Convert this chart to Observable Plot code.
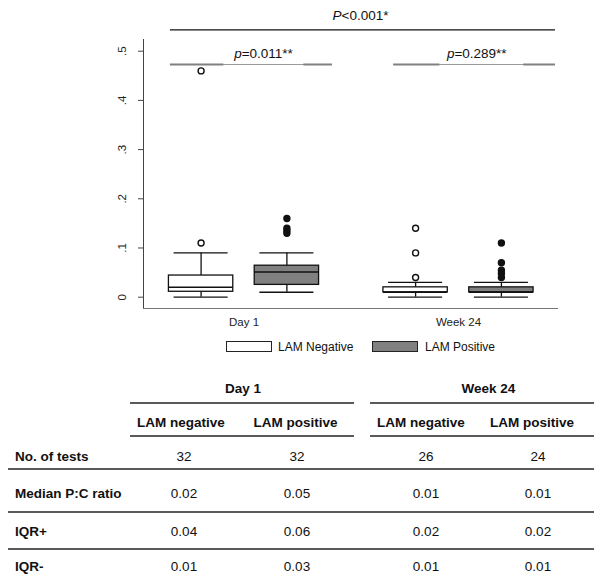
<!DOCTYPE html>
<html><head><meta charset="utf-8">
<script src="https://cdn.jsdelivr.net/npm/d3@7"></script>
<script src="https://cdn.jsdelivr.net/npm/@observablehq/plot@0.6"></script>
<style>
body{margin:0;background:#fff;font-family:"Liberation Sans",Arial,sans-serif;}
#wrap{position:relative;width:600px;height:579px;overflow:hidden;background:#fff;}
#chart{position:absolute;left:0;top:0;}
.abs{position:absolute;white-space:nowrap;line-height:1;color:#111;}
.c{transform:translate(-50%,-50%);}
.l{transform:translate(0,-50%);}
.b{font-weight:bold;}
.hl{position:absolute;height:2px;background:#5a5a5a;}
.sw{position:absolute;box-sizing:border-box;border:1px solid #222;}
</style></head>
<body><div id="wrap"><div id="chart"></div></div>
<script>
// ---- data ----
const groups = ["Day 1", "Week 24"];
const statuses = ["LAM Negative", "LAM Positive"];
const statusColors = ["#ffffff", "#808080"];

const boxGroup = ["Day 1", "Day 1", "Week 24", "Week 24"];
const boxStatus = ["LAM Negative", "LAM Positive", "LAM Negative", "LAM Positive"];
const whiskerLow = [0.0, 0.010, 0.0, 0.0];
const quartile1 = [0.011, 0.025, 0.010, 0.010];
const medianVal = [0.020, 0.051, 0.010, 0.010];
const quartile3 = [0.044, 0.064, 0.020, 0.020];
const whiskerHigh = [0.090, 0.090, 0.030, 0.030];

const outlierGroup = ["Day 1", "Day 1", "Day 1", "Day 1", "Day 1", "Day 1",
  "Week 24", "Week 24", "Week 24", "Week 24", "Week 24", "Week 24", "Week 24", "Week 24"];
const outlierStatus = ["LAM Negative", "LAM Negative", "LAM Positive", "LAM Positive", "LAM Positive", "LAM Positive",
  "LAM Negative", "LAM Negative", "LAM Negative", "LAM Positive", "LAM Positive", "LAM Positive", "LAM Positive", "LAM Positive"];
const outlierValue = [0.11, 0.46, 0.16, 0.14, 0.135, 0.13,
  0.14, 0.09, 0.04, 0.11, 0.07, 0.055, 0.048, 0.04];

const yTicks = [0, 0.1, 0.2, 0.3, 0.4, 0.5];
const pLabels = ["P<0.001*", "p=0.011**", "p=0.289**"];

// table
const tableGroups = ["Day 1", "Week 24"];
const tableCols = ["LAM negative", "LAM positive", "LAM negative", "LAM positive"];
const rowLabels = ["No. of tests", "Median P:C ratio", "IQR+", "IQR-"];
const nTests = ["32", "32", "26", "24"];
const medianRatio = ["0.02", "0.05", "0.01", "0.01"];
const iqrPlus = ["0.04", "0.06", "0.02", "0.02"];
const iqrMinus = ["0.01", "0.03", "0.01", "0.01"];

// ---- build tables for Plot ----
const xPos = (g, s) => groups.indexOf(g) + (statuses.indexOf(s) - 0.5) * 0.4;
const boxes = boxGroup.map((g, i) => ({
  group: g, status: boxStatus[i], x: xPos(g, boxStatus[i]),
  low: whiskerLow[i], q1: quartile1[i], med: medianVal[i], q3: quartile3[i], high: whiskerHigh[i]
}));
const outliers = outlierValue.map((v, i) => ({
  group: outlierGroup[i], status: outlierStatus[i], x: xPos(outlierGroup[i], outlierStatus[i]), v
}));
const BW = 0.15, CAP = 0.126;
const colorOf = s => statusColors[statuses.indexOf(s)];

const plot = Plot.plot({
  width: 600, height: 332,
  marginTop: 39, marginBottom: 24, marginLeft: 143, marginRight: 43,
  x: {type: "linear", domain: [-0.4685, 1.4615]},
  y: {domain: [-0.023, 0.5238]},
  style: {fontFamily: "'Liberation Sans', Arial, sans-serif", fontSize: "11px", color: "#222", background: "white", overflow: "visible"},
  marks: [
    Plot.axisY({ticks: yTicks, tickFormat: d => d === 0 ? "0" : String(d).replace(/^0/, ""),
      tickRotate: -90, tickSize: 5, tickPadding: 13, fontSize: 11.5, label: null, stroke: "#444", fill: "#222"}),
    Plot.axisX({ticks: [0, 1], tickFormat: i => groups[i], tickSize: 0, tickPadding: 9, fontSize: 11.5, label: null, fill: "#222"}),
    Plot.frame({anchor: "left", stroke: "#444"}),
    Plot.frame({anchor: "bottom", stroke: "#777"}),
    // whiskers
    Plot.ruleX(boxes, {x: "x", y1: "low", y2: "q1", stroke: "#111", strokeWidth: 1.3}),
    Plot.ruleX(boxes, {x: "x", y1: "q3", y2: "high", stroke: "#111", strokeWidth: 1.3}),
    Plot.ruleY(boxes, {y: "low", x1: d => d.x - CAP, x2: d => d.x + CAP, stroke: "#111", strokeWidth: 1.3}),
    Plot.ruleY(boxes, {y: "high", x1: d => d.x - CAP, x2: d => d.x + CAP, stroke: "#111", strokeWidth: 1.3}),
    // boxes
    Plot.rectY(boxes, {x1: d => d.x - BW, x2: d => d.x + BW, y1: "q1", y2: "q3",
      fill: d => colorOf(d.status), stroke: "#111", strokeWidth: 1.3}),
    Plot.ruleY(boxes, {y: "med", x1: d => d.x - BW, x2: d => d.x + BW, stroke: "#111", strokeWidth: 1.5}),
    // outliers
    Plot.dot(outliers, {x: "x", y: "v", r: 3, stroke: "#111", strokeWidth: 1.4,
      fill: d => d.status === "LAM Positive" ? "#111" : "#fff"}),
    // significance annotations
    Plot.ruleY([0.5435], {x1: -0.343, x2: 1.452, stroke: "#111", strokeWidth: 1.2}),
    Plot.text([pLabels[0]], {x: 0.543, y: 0.5726, fontSize: 13.5, fill: "#111"}),
    Plot.ruleY([0.473], {x1: -0.343, x2: 0.412, stroke: "#9a9a9a", strokeWidth: 1}),
    Plot.ruleY([0.473, 0.473], {x1: [-0.343, 0.279], x2: [-0.094, 0.412], stroke: "#808080", strokeWidth: 2}),
    Plot.text([pLabels[1]], {x: 0.091, y: 0.496, fontSize: 13.5, fill: "#111"}),
    Plot.ruleY([0.473], {x1: 0.698, x2: 1.452, stroke: "#9a9a9a", strokeWidth: 1}),
    Plot.ruleY([0.473, 0.473], {x1: [0.698, 1.304], x2: [0.913, 1.452], stroke: "#808080", strokeWidth: 2}),
    Plot.text([pLabels[2]], {x: 1.085, y: 0.496, fontSize: 13.5, fill: "#111"})
  ]
});

// italicise the leading P / p of the significance labels
plot.querySelectorAll("text").forEach(t => {
  const s = t.textContent;
  if (pLabels.includes(s)) {
    t.textContent = "";
    const ns = "http://www.w3.org/2000/svg";
    const a = document.createElementNS(ns, "tspan");
    a.setAttribute("font-style", "italic");
    a.textContent = s[0];
    const b = document.createElementNS(ns, "tspan");
    b.textContent = s.slice(1);
    t.appendChild(a); t.appendChild(b);
  }
});
document.getElementById("chart").appendChild(plot);

// ---- legend (HTML, below the SVG) ----
const wrap = document.getElementById("wrap");
function add(html) { wrap.insertAdjacentHTML("beforeend", html); }
const legendSw = [226, 372.3], legendTx = [278, 425];
statuses.forEach((s, i) => {
  add(`<div class="sw" style="left:${legendSw[i]}px;top:340.7px;width:45.7px;height:11.8px;background:${statusColors[i]}"></div>`);
  add(`<div class="abs l" style="left:${legendTx[i]}px;top:347px;font-size:12px">${s}</div>`);
});

// ---- table ----
const grpCenter = [243, 488.3], grpLine = [[130, 354], [370, 594]];
tableGroups.forEach((g, i) => {
  add(`<div class="abs c b" style="left:${grpCenter[i]}px;top:389px;font-size:13.5px">${g}</div>`);
  add(`<div class="hl" style="left:${grpLine[i][0]}px;width:${grpLine[i][1] - grpLine[i][0]}px;top:401.5px"></div>`);
  add(`<div class="hl" style="left:${grpLine[i][0]}px;width:${grpLine[i][1] - grpLine[i][0]}px;top:435px"></div>`);
});
const colHead = [181, 295.5, 421, 532];
tableCols.forEach((c, i) => add(`<div class="abs c b" style="left:${colHead[i]}px;top:423.3px;font-size:13.5px">${c}</div>`));
const rowY = [457.3, 494, 531.7, 566.7];
const colVal = [184, 297, 426, 538];
const rows = [nTests, medianRatio, iqrPlus, iqrMinus];
rowLabels.forEach((r, j) => {
  add(`<div class="abs l b" style="left:15px;top:${rowY[j]}px;font-size:13.5px">${r}</div>`);
  rows[j].forEach((v, i) => add(`<div class="abs c" style="left:${colVal[i]}px;top:${rowY[j]}px;font-size:13.5px">${v}</div>`));
});
[468.3, 511, 548.3].forEach(y => add(`<div class="hl" style="left:8px;width:586px;top:${y}px"></div>`));
</script>
</body></html>
